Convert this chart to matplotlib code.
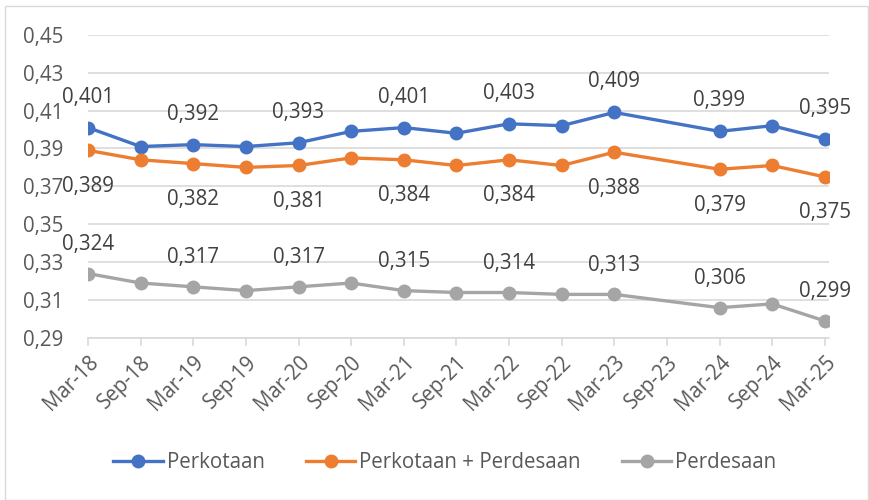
import numpy as np
import matplotlib
matplotlib.use('Agg')
import matplotlib.pyplot as plt
from matplotlib.ticker import FuncFormatter
from matplotlib.patches import Rectangle

plt.rcParams['font.family'] = ['Open Sans', 'DejaVu Sans']

categories = ['Mar-18', 'Sep-18', 'Mar-19', 'Sep-19', 'Mar-20', 'Sep-20', 'Mar-21',
              'Sep-21', 'Mar-22', 'Sep-22', 'Mar-23', 'Sep-23', 'Mar-24', 'Sep-24', 'Mar-25']

# Sep-23 has no observation (None)
perkotaan = [0.401, 0.391, 0.392, 0.391, 0.393, 0.399, 0.401,
             0.398, 0.403, 0.402, 0.409, None, 0.399, 0.402, 0.395]
gabungan = [0.389, 0.384, 0.382, 0.380, 0.381, 0.385, 0.384,
            0.381, 0.384, 0.381, 0.388, None, 0.379, 0.381, 0.375]
perdesaan = [0.324, 0.319, 0.317, 0.315, 0.317, 0.319, 0.315,
             0.314, 0.314, 0.313, 0.313, None, 0.306, 0.308, 0.299]

y_ticks = [0.29, 0.31, 0.33, 0.35, 0.37, 0.39, 0.41, 0.43, 0.45]

series = [
    ('Perkotaan', perkotaan, '#4472C4', 22),
    ('Perkotaan + Perdesaan', gabungan, '#ED7D31', -26),
    ('Perdesaan', perdesaan, '#A5A5A5', 21),
]

FS = 14.8

fig = plt.figure(figsize=(8.69, 5.0), dpi=100)
ax = fig.add_axes([88 / 869, 1 - 338 / 500, (829 - 88) / 869, (338 - 34.7) / 500])

# light chart border like the Excel chart area
fig.patches.append(Rectangle((5 / 869, 0.0), 863 / 869, 1 - 6 / 500, transform=fig.transFigure,
                             fill=False, edgecolor='#d9d9d9', linewidth=1))

x = np.arange(len(categories))
for name, vals, color, off in series:
    arr = np.array([np.nan if v is None else v for v in vals], dtype=float)
    ok = ~np.isnan(arr)
    ax.plot(x[ok], arr[ok], color=color, linewidth=2.4, marker='o', markersize=9,
            label=name, zorder=3)
    for i in x[ok]:
        if categories[i].startswith('Mar'):
            ax.annotate(f'{arr[i]:.3f}'.replace('.', ','), (i, arr[i]),
                        xytext=(0, off), textcoords='offset points',
                        ha='center', va='center', fontsize=FS, color='#404040')

ax.set_xlim(0, 14.08)
ax.set_ylim(0.29, 0.45)
ax.set_yticks(y_ticks)
ax.yaxis.set_major_formatter(FuncFormatter(lambda v, p: f'{v:.2f}'.replace('.', ',')))
ax.grid(axis='y', color='#d9d9d9', linewidth=1.2)
ax.set_axisbelow(True)

ax.set_xticks(x)
ax.set_xticklabels(categories, rotation=45, ha='right', va='top', rotation_mode='anchor')
for s in ['top', 'right', 'left']:
    ax.spines[s].set_visible(False)
ax.spines['bottom'].set_color('#d9d9d9')
ax.spines['bottom'].set_linewidth(1.2)
ax.tick_params(axis='x', length=6, color='#d9d9d9', width=1.2, labelsize=FS,
               labelcolor='#595959', pad=4)
ax.tick_params(axis='y', length=0, labelsize=FS, labelcolor='#595959', pad=18)

fig.legend(loc='center', bbox_to_anchor=(445 / 869, 1 - 463 / 500), ncol=3, frameon=False,
           fontsize=FS, handlelength=2.4, handletextpad=0.2, columnspacing=2.0,
           labelcolor='#595959')

fig.savefig('out.png', dpi=100)
